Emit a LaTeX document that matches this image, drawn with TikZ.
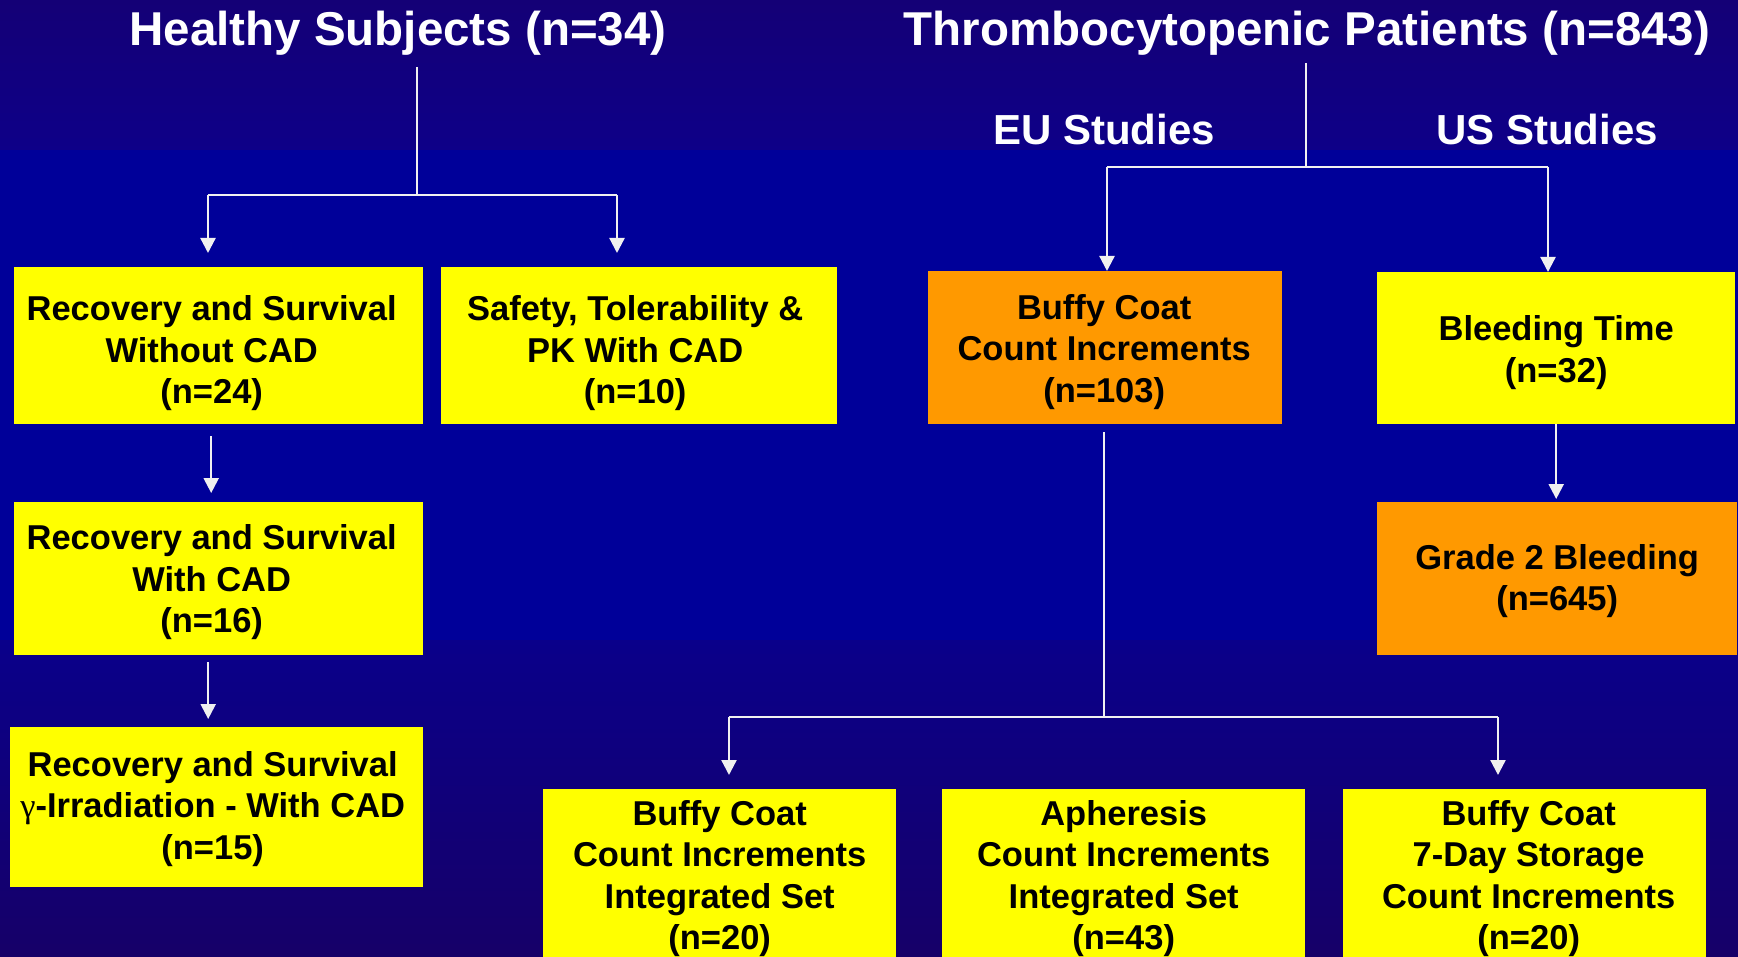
\documentclass[tikz,border=0pt]{standalone}
\usepackage{fontspec}
\setmainfont{Liberation Sans}
\newfontfamily\gammafont{Liberation Serif}
\usetikzlibrary{arrows.meta}
\definecolor{bgA}{RGB}{20,0,118}
\definecolor{bgB}{RGB}{14,0,136}
\definecolor{bgmid}{RGB}{0,0,153}
\definecolor{bgC}{RGB}{10,0,138}
\definecolor{bgD}{RGB}{22,0,104}
\definecolor{yel}{RGB}{255,255,0}
\definecolor{org}{RGB}{255,153,0}
\definecolor{lnc}{RGB}{240,240,240}
\tikzset{
  titletext/.style={text=white, font=\bfseries\fontsize{47.5}{56}\selectfont, inner sep=0, anchor=base},
  subtext/.style={text=white, font=\bfseries\fontsize{42}{50}\selectfont, inner sep=0, anchor=base},
  boxtxt/.style={inner sep=0, align=center, text=black, font=\bfseries\fontsize{34.5}{41.5}\selectfont},
  boxbase/.style={rectangle, inner sep=0, anchor=north west},
  ybox/.style={boxbase, fill=yel},
  obox/.style={boxbase, fill=org},
  conn/.style={draw=lnc, line width=2.3pt},
  arr/.style={conn, -{Triangle[width=15pt,length=15pt]}},
}
\begin{document}
\begin{tikzpicture}[x=1pt,y=-1pt]
\useasboundingbox (0,0) rectangle (1738,957);
% background
\fill[top color=bgA, bottom color=bgB] (0,0) rectangle (1738,150);
\fill[bgmid] (0,150) rectangle (1738,640);
\fill[top color=bgC, bottom color=bgD] (0,640) rectangle (1738,957);

% titles
\node[titletext] (hs) at (398,46) {Healthy Subjects (n=34)};
\node[titletext] (tp) at (1307,46) {Thrombocytopenic Patients (n=843)};
\node[subtext] (eu) at (1104,145) {EU Studies};
\node[subtext] (us) at (1547,145) {US Studies};

% boxes
\node[ybox, minimum width=409pt, minimum height=157pt,
  label={[boxtxt, xshift=-7pt, yshift=-7.5pt]center:{Recovery and Survival\\Without CAD\\(n=24)}}] (A) at (14,267) {};
\node[ybox, minimum width=396pt, minimum height=157pt,
  label={[boxtxt, xshift=-4pt, yshift=-7.5pt]center:{Safety, Tolerability \&\\PK With CAD\\(n=10)}}] (B) at (441,267) {};
\node[ybox, minimum width=409pt, minimum height=153pt,
  label={[boxtxt, xshift=-7pt, yshift=-3.5pt]center:{Recovery and Survival\\With CAD\\(n=16)}}] (C) at (14,502) {};
\node[ybox, minimum width=413pt, minimum height=160pt,
  label={[boxtxt, xshift=-4pt, yshift=-1.5pt]center:{Recovery and Survival\\{\gammafont\mdseries γ}-Irradiation - With CAD\\(n=15)}}] (D) at (10,727) {};
\node[obox, minimum width=354pt, minimum height=153pt,
  label={[boxtxt, xshift=-1pt, yshift=-4pt]center:{Buffy Coat\\Count Increments\\(n=103)}}] (E) at (928,271) {};
\node[ybox, minimum width=358pt, minimum height=152pt,
  label={[boxtxt, yshift=-4.5pt]center:{Bleeding Time\\(n=32)}}] (F) at (1377,272) {};
\node[obox, minimum width=360pt, minimum height=153pt,
  label={[boxtxt, yshift=-2.5pt]center:{Grade 2 Bleeding\\(n=645)}}] (G) at (1377,502) {};
\node[ybox, minimum width=353pt, minimum height=170pt,
  label={[boxtxt, yshift=-4.5pt]center:{Buffy Coat\\Count Increments\\Integrated Set\\(n=20)}}] (H) at (543,789) {};
\node[ybox, minimum width=363pt, minimum height=170pt,
  label={[boxtxt, yshift=-4.5pt]center:{Apheresis\\Count Increments\\Integrated Set\\(n=43)}}] (I) at (942,789) {};
\node[ybox, minimum width=363pt, minimum height=170pt,
  label={[boxtxt, xshift=4pt, yshift=-4.5pt]center:{Buffy Coat\\7-Day Storage\\Count Increments\\(n=20)}}] (J) at (1343,789) {};

% healthy subjects tree
\coordinate (hstop) at (417,67);
\coordinate (hsj) at (417,195);
\coordinate (ja) at (208,195);
\coordinate (jb) at (617,195);
\draw[conn] (hstop) -- (hsj);
\draw[conn] (ja) -- (jb);
\draw[arr, shorten >=14pt] (ja) -- (ja |- A.north);
\draw[arr, shorten >=14pt] (jb) -- (jb |- B.north);
\draw[arr, shorten <=12pt, shorten >=9pt] ([xshift=-7.5pt]A.south) -- ([xshift=-7.5pt]A.south |- C.north);
\draw[arr, shorten <=7pt, shorten >=8pt] ([xshift=-10.5pt]C.south) -- ([xshift=-10.5pt]C.south |- D.north);

% thrombocytopenic tree
\coordinate (tptop) at (1306,63);
\coordinate (tpj) at (1306,167);
\coordinate (je) at (1107,167);
\coordinate (jf) at (1548,167);
\draw[conn] (tptop) -- (tpj);
\draw[conn] (je) -- (jf);
\draw[arr] (je) -- (je |- E.north);
\draw[arr] (jf) -- (jf |- F.north);
\draw[arr, shorten >=3pt] (F.south) -- (F.south |- G.north);

% buffy coat tree
\coordinate (ej) at (1104,717);
\coordinate (jh) at (729,717);
\coordinate (jj) at (1498,717);
\draw[conn, shorten <=8pt] (E.south -| ej) -- (ej);
\draw[conn] (jh) -- (jj);
\draw[arr, shorten >=14pt] (jh) -- (jh |- H.north);
\draw[arr, shorten >=14pt] (jj) -- (jj |- J.north);
\end{tikzpicture}
\end{document}
